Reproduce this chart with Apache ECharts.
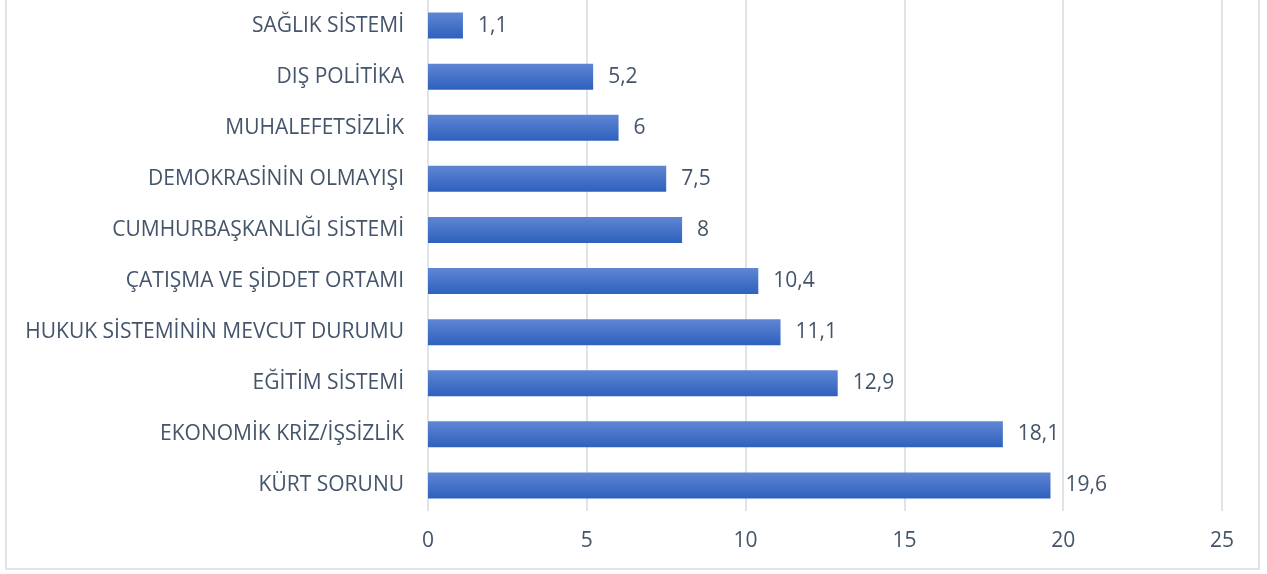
<!DOCTYPE html>
<html>
<head>
	<meta charset="utf-8">
	<title>Sorunlar</title>
	<script src="https://cdn.jsdelivr.net/npm/echarts@6/dist/echarts.min.js"></script>
	<style>
		html, body { margin:0; padding:0; background:#fff; }
		#frame { position:absolute; left:5px; top:-3px; width:1255px; height:573px; border:2px solid #dfe3ea; box-sizing:border-box; }
		#chart { position:absolute; left:0; top:0; width:1267px; height:574px; }
	</style>
</head>
<body>
	<div id="frame"></div>
	<div id="chart"></div>

<script type="text/javascript">
	var categories = [
		'SAĞLIK SİSTEMİ',
		'DIŞ POLİTİKA',
		'MUHALEFETSİZLİK',
		'DEMOKRASİNİN OLMAYIŞI',
		'CUMHURBAŞKANLIĞI SİSTEMİ',
		'ÇATIŞMA VE ŞİDDET ORTAMI',
		'HUKUK SİSTEMİNİN MEVCUT DURUMU',
		'EĞİTİM SİSTEMİ',
		'EKONOMİK KRİZ/İŞSİZLİK',
		'KÜRT SORUNU'
	];
	var values = [1.1, 5.2, 6, 7.5, 8, 10.4, 11.1, 12.9, 18.1, 19.6];

	var textColor = '#44546a';
	var fontFam = '"Open Sans", Lato, sans-serif';

	var myChart = echarts.init(document.getElementById('chart'));
	myChart.setOption({
		animation: false,
		grid: { left: 428, right: 45, top: 0, bottom: 63 },
		xAxis: {
			type: 'value',
			min: 0,
			max: 25,
			interval: 5,
			axisLine: { show: false },
			axisTick: { show: false },
			splitLine: { lineStyle: { color: '#dfe3ea', width: 2 } },
			axisLabel: { color: textColor, fontSize: 21, fontFamily: fontFam, margin: 20 }
		},
		yAxis: {
			type: 'category',
			inverse: true,
			data: categories,
			axisLine: { show: false },
			axisTick: { show: false },
			axisLabel: { color: textColor, fontSize: 21, fontFamily: fontFam, margin: 24 }
		},
		series: [{
			type: 'bar',
			data: values,
			barWidth: 26,
			itemStyle: {
				color: new echarts.graphic.LinearGradient(0, 0, 0, 1, [
					{ offset: 0, color: '#5f86d3' },
					{ offset: 1, color: '#2e60bd' }
				])
			},
			label: {
				show: true,
				position: 'right',
				distance: 15,
				color: textColor,
				fontSize: 21,
				fontFamily: fontFam,
				formatter: function(p){ return String(p.value).replace('.', ','); }
			}
		}]
	});
</script>
</body>
</html>
